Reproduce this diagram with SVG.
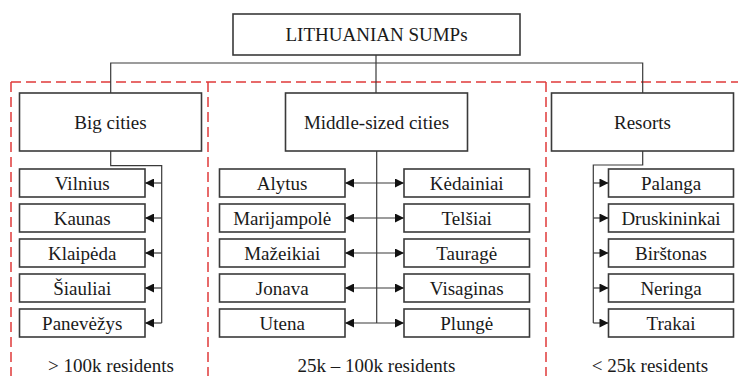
<svg xmlns="http://www.w3.org/2000/svg" width="738" height="376" viewBox="0 0 738 376">
  <style>
    .box { fill: #ffffff; stroke: #3a3a3a; stroke-width: 1.6; }
    .lbl { font-family: 'Liberation Serif', 'Times New Roman', serif; font-size: 19px; fill: #1a1a1a; text-anchor: middle; }
    .wire { fill: none; stroke: #3a3a3a; stroke-width: 1.2; }
    .zone { fill: none; stroke: #e03a3a; stroke-width: 1.5; stroke-dasharray: 10 5; }
  </style>
  <defs>
    <marker id="tip" viewBox="0 0 10 10" refX="10" refY="5" markerWidth="10" markerHeight="9" markerUnits="userSpaceOnUse" orient="auto-start-reverse">
      <path d="M0,0 L10,5 L0,10 z" fill="#111111"/>
    </marker>
  </defs>

  <!-- category zones -->
  <g id="zones">
    <line class="zone" x1="11" y1="82" x2="738" y2="82"/>
    <line class="zone" x1="11" y1="82" x2="11" y2="376"/>
    <line class="zone" x1="208" y1="82" x2="208" y2="376"/>
    <line class="zone" x1="546" y1="82" x2="546" y2="376"/>
  </g>

  <!-- connectors -->
  <g id="connectors">
    <path class="wire" d="M376,55 V93 M110.7,93 V63 H642.7 V93"/>
    <!-- big cities -->
    <path class="wire" d="M110.7,151 V165.7 H161.7 V323"/>
    <line class="wire" x1="161.7" y1="183" x2="145" y2="183" marker-end="url(#tip)"/>
    <line class="wire" x1="161.7" y1="218" x2="145" y2="218" marker-end="url(#tip)"/>
    <line class="wire" x1="161.7" y1="253" x2="145" y2="253" marker-end="url(#tip)"/>
    <line class="wire" x1="161.7" y1="288" x2="145" y2="288" marker-end="url(#tip)"/>
    <line class="wire" x1="161.7" y1="323" x2="145" y2="323" marker-end="url(#tip)"/>
    <!-- middle-sized cities -->
    <path class="wire" d="M376.7,151 V323"/>
    <line class="wire" x1="345" y1="183" x2="404" y2="183" marker-start="url(#tip)" marker-end="url(#tip)"/>
    <line class="wire" x1="345" y1="218" x2="404" y2="218" marker-start="url(#tip)" marker-end="url(#tip)"/>
    <line class="wire" x1="345" y1="253" x2="404" y2="253" marker-start="url(#tip)" marker-end="url(#tip)"/>
    <line class="wire" x1="345" y1="288" x2="404" y2="288" marker-start="url(#tip)" marker-end="url(#tip)"/>
    <line class="wire" x1="345" y1="323" x2="404" y2="323" marker-start="url(#tip)" marker-end="url(#tip)"/>
    <!-- resorts -->
    <path class="wire" d="M642.7,151 V165 H593.3 V323"/>
    <line class="wire" x1="593.3" y1="183" x2="608.5" y2="183" marker-end="url(#tip)"/>
    <line class="wire" x1="593.3" y1="218" x2="608.5" y2="218" marker-end="url(#tip)"/>
    <line class="wire" x1="593.3" y1="253" x2="608.5" y2="253" marker-end="url(#tip)"/>
    <line class="wire" x1="593.3" y1="288" x2="608.5" y2="288" marker-end="url(#tip)"/>
    <line class="wire" x1="593.3" y1="323" x2="608.5" y2="323" marker-end="url(#tip)"/>
  </g>

  <!-- root -->
  <g id="root">
    <rect class="box" x="233" y="14" width="287" height="41"/>
    <text class="lbl" x="376.5" y="41">LITHUANIAN SUMPs</text>
  </g>

  <!-- categories -->
  <g id="big-cities">
    <rect class="box" x="19.5" y="93" width="182" height="58"/>
    <text class="lbl" x="110.5" y="128.5">Big cities</text>
  </g>
  <g id="middle-cities">
    <rect class="box" x="285.5" y="93" width="182" height="58"/>
    <text class="lbl" x="376.5" y="128.5">Middle-sized cities</text>
  </g>
  <g id="resorts">
    <rect class="box" x="551.5" y="93" width="182" height="58"/>
    <text class="lbl" x="642.5" y="128.5">Resorts</text>
  </g>

  <!-- big cities -->
  <g id="vilnius"><rect class="box" x="19.5" y="169" width="125.5" height="28"/><text class="lbl" x="82.2" y="189.5">Vilnius</text></g>
  <g id="kaunas"><rect class="box" x="19.5" y="204" width="125.5" height="28"/><text class="lbl" x="82.2" y="224.5">Kaunas</text></g>
  <g id="klaipeda"><rect class="box" x="19.5" y="239" width="125.5" height="28"/><text class="lbl" x="82.2" y="259.5">Klaipėda</text></g>
  <g id="siauliai"><rect class="box" x="19.5" y="274" width="125.5" height="28"/><text class="lbl" x="82.2" y="294.5">Šiauliai</text></g>
  <g id="panevezys"><rect class="box" x="19.5" y="309" width="125.5" height="28"/><text class="lbl" x="82.2" y="329.5">Panevėžys</text></g>

  <!-- middle-sized cities, left column -->
  <g id="alytus"><rect class="box" x="219.5" y="169" width="125.5" height="28"/><text class="lbl" x="282.2" y="189.5">Alytus</text></g>
  <g id="marijampole"><rect class="box" x="219.5" y="204" width="125.5" height="28"/><text class="lbl" x="282.2" y="224.5">Marijampolė</text></g>
  <g id="mazeikiai"><rect class="box" x="219.5" y="239" width="125.5" height="28"/><text class="lbl" x="282.2" y="259.5">Mažeikiai</text></g>
  <g id="jonava"><rect class="box" x="219.5" y="274" width="125.5" height="28"/><text class="lbl" x="282.2" y="294.5">Jonava</text></g>
  <g id="utena"><rect class="box" x="219.5" y="309" width="125.5" height="28"/><text class="lbl" x="282.2" y="329.5">Utena</text></g>

  <!-- middle-sized cities, right column -->
  <g id="kedainiai"><rect class="box" x="404" y="169" width="125.5" height="28"/><text class="lbl" x="466.7" y="189.5">Kėdainiai</text></g>
  <g id="telsiai"><rect class="box" x="404" y="204" width="125.5" height="28"/><text class="lbl" x="466.7" y="224.5">Telšiai</text></g>
  <g id="taurage"><rect class="box" x="404" y="239" width="125.5" height="28"/><text class="lbl" x="466.7" y="259.5">Tauragė</text></g>
  <g id="visaginas"><rect class="box" x="404" y="274" width="125.5" height="28"/><text class="lbl" x="466.7" y="294.5">Visaginas</text></g>
  <g id="plunge"><rect class="box" x="404" y="309" width="125.5" height="28"/><text class="lbl" x="466.7" y="329.5">Plungė</text></g>

  <!-- resorts -->
  <g id="palanga"><rect class="box" x="608.5" y="169" width="125" height="28"/><text class="lbl" x="671" y="189.5">Palanga</text></g>
  <g id="druskininkai"><rect class="box" x="608.5" y="204" width="125" height="28"/><text class="lbl" x="671" y="224.5">Druskininkai</text></g>
  <g id="birstonas"><rect class="box" x="608.5" y="239" width="125" height="28"/><text class="lbl" x="671" y="259.5">Birštonas</text></g>
  <g id="neringa"><rect class="box" x="608.5" y="274" width="125" height="28"/><text class="lbl" x="671" y="294.5">Neringa</text></g>
  <g id="trakai"><rect class="box" x="608.5" y="309" width="125" height="28"/><text class="lbl" x="671" y="329.5">Trakai</text></g>

  <!-- population ranges -->
  <g id="ranges">
    <text class="lbl" x="111" y="372">&gt; 100k residents</text>
    <text class="lbl" x="376.5" y="372">25k – 100k residents</text>
    <text class="lbl" x="650" y="372">&lt; 25k residents</text>
  </g>
</svg>
